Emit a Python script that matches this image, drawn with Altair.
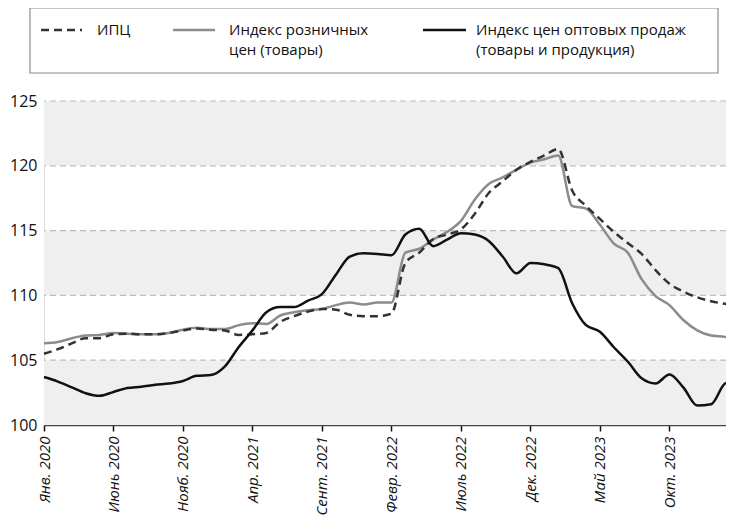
import altair as alt
import pandas as pd

# ---- data (monthly, Jan 2020 .. Mar 2024) ----
tick_labels = ["Янв. 2020", "Июнь 2020", "Нояб. 2020", "Апр. 2021", "Сент. 2021",
               "Февр. 2022", "Июль 2022", "Дек. 2022", "Май 2023", "Окт. 2023", "Март 2024"]

cpi = [105.5, 105.85, 106.3, 106.7, 106.7, 107.0, 107.05, 107.0, 107.0, 107.1,
       107.3, 107.45, 107.35, 107.3, 106.95, 107.0, 107.1, 107.95, 108.4, 108.75,
       108.95, 108.9, 108.5, 108.4, 108.4, 108.6, 112.5, 113.3, 114.35, 114.7,
       115.1, 116.3, 117.9, 118.8, 119.7, 120.3, 120.8, 121.3, 118.1, 116.9,
       115.9, 114.9, 114.05, 113.2, 111.95, 110.9, 110.3, 109.85, 109.55, 109.35,
       109.2]

retail = [106.3, 106.4, 106.7, 106.9, 106.95, 107.1, 107.05, 107.0, 107.0, 107.1,
          107.35, 107.5, 107.4, 107.4, 107.7, 107.85, 107.8, 108.45, 108.7, 108.85,
          108.95, 109.25, 109.45, 109.3, 109.45, 109.45, 113.3, 113.6, 114.3, 114.9,
          115.75, 117.4, 118.6, 119.1, 119.7, 120.25, 120.5, 120.8, 116.9, 116.7,
          115.45, 114.0, 113.3, 111.25, 109.95, 109.25, 108.1, 107.3, 106.9, 106.8,
          106.3]

wholesale = [103.7, 103.35, 102.9, 102.45, 102.25, 102.55, 102.85, 102.95, 103.1, 103.2,
             103.4, 103.8, 103.85, 104.5, 106.0, 107.3, 108.7, 109.1, 109.1, 109.6,
             110.1, 111.6, 113.0, 113.25, 113.2, 113.1, 114.7, 115.15, 113.8, 114.3,
             114.8, 114.7, 114.2, 113.0, 111.7, 112.5, 112.4, 112.1, 109.4, 107.7,
             107.2, 106.0, 104.9, 103.6, 103.2, 103.9, 102.9, 101.5, 101.6, 103.2,
             103.5]

legend_lines = [["ИПЦ"],
                ["Индекс розничных", "цен (товары)"],
                ["Индекс цен оптовых продаж", "(товары и продукция)"]]

band_lo = [100, 110, 120]
band_hi = [105, 115, 125]
grid_vals = [105, 110, 115, 120, 125]
y_ticks = [100, 105, 110, 115, 120, 125]
x_ticks = list(range(0, 51, 5))

FONT = "Open Sans"
months = list(range(len(cpi)))

# plot area 682 px wide at 13.9 px per month: Mar 2024 falls just past the right edge
x_scale = alt.Scale(domain=[0, 49.07], nice=False, zero=False)
y_scale = alt.Scale(domain=[100, 125], nice=False, zero=False)

label_expr = "[" + ",".join("'%s'" % t for t in tick_labels) + "][round(datum.value/5)]"

XA = alt.Axis(values=x_ticks, labelExpr=label_expr, labelAngle=270,
              labelAlign="right", labelBaseline="middle",
              labelFontStyle="italic", labelFontSize=15, labelColor="#111",
              labelPadding=5, labelOverlap=False, labelBound=False, labelFlush=False,
              tickSize=6, tickColor="#111", tickWidth=1.5,
              domainColor="#444", domainWidth=1.5, grid=False, title=None)
YA = alt.Axis(values=y_ticks, labelFontSize=16, labelColor="#111",
              labelPadding=7, domain=False, ticks=False, grid=False, title=None)

bands = alt.Chart(pd.DataFrame({"lo": band_lo, "hi": band_hi})).mark_rect(
    color="#efefef").encode(
    y=alt.Y("lo:Q", scale=y_scale, axis=YA),
    y2="hi:Q")

grid = alt.Chart(pd.DataFrame({"g": grid_vals})).mark_rule(
    color="#bdbdbd", strokeWidth=1.2, strokeDash=[6, 4]).encode(
    y=alt.Y("g:Q", scale=y_scale, axis=YA))


def line_layer(vals, color, dash=None):
    d = pd.DataFrame({"m": months, "v": vals})
    kw = dict(interpolate="monotone", color=color, strokeWidth=2.5)
    if dash:
        kw["strokeDash"] = dash
    return alt.Chart(d).mark_line(**kw).encode(
        x=alt.X("m:Q", scale=x_scale, axis=XA),
        y=alt.Y("v:Q", scale=y_scale, axis=YA))


l_retail = line_layer(retail, "#8c8c8c")
l_cpi = line_layer(cpi, "#333333", dash=[8, 5])
l_whole = line_layer(wholesale, "#111111")

one = pd.DataFrame({"k": [0]})
box = alt.Chart(one).mark_rect(fill="white", stroke="#8a8a8a", strokeWidth=1.2).encode(
    x=alt.value(-14), x2=alt.value(674), y=alt.value(-93), y2=alt.value(-28))

SYM_Y = -71
sym_cpi = alt.Chart(one).mark_rule(color="#333333", strokeWidth=2.5, strokeDash=[8, 5]).encode(
    x=alt.value(-3), x2=alt.value(38), y=alt.value(SYM_Y))
sym_retail = alt.Chart(one).mark_rule(color="#8c8c8c", strokeWidth=2.5).encode(
    x=alt.value(129), x2=alt.value(171), y=alt.value(SYM_Y))
sym_whole = alt.Chart(one).mark_rule(color="#111111", strokeWidth=2.5).encode(
    x=alt.value(379), x2=alt.value(422), y=alt.value(SYM_Y))


def legend_text(txt, xpos, ypos):
    return alt.Chart(one).mark_text(align="left", baseline="middle", fontSize=15,
                                    font=FONT, color="#111").encode(
        x=alt.value(xpos), y=alt.value(ypos), text=alt.value(txt))


texts = []
for lines, xpos in zip(legend_lines, [53, 185, 432]):
    for k, ln in enumerate(lines):
        texts.append(legend_text(ln, xpos, SYM_Y + 20 * k))

chart = alt.layer(
    bands, grid, l_retail, l_cpi, l_whole,
    box, sym_cpi, sym_retail, sym_whole, *texts
).properties(
    width=682, height=324,
    autosize=alt.AutoSizeParams(type="none"),
    padding={"left": 36, "top": 93, "right": 0, "bottom": 90}
).configure_view(stroke=None).configure(font=FONT)

chart.save("out.html", embed_options={"renderer": "svg", "actions": False})
